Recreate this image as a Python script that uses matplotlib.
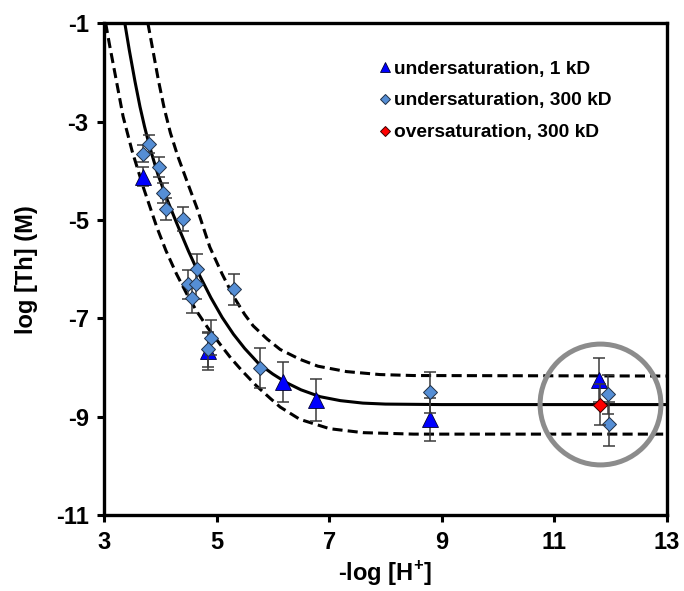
import matplotlib
matplotlib.use("Agg")
import matplotlib.pyplot as plt

plt.rcParams["font.family"] = ["Liberation Sans", "DejaVu Sans"]
plt.rcParams["font.weight"] = "bold"
plt.rcParams["mathtext.fontset"] = "custom"
plt.rcParams["mathtext.rm"] = "Liberation Sans:bold"
plt.rcParams["mathtext.bf"] = "Liberation Sans:bold"

# ---------------------------------------------------------------------------
# Data
# ---------------------------------------------------------------------------

# undersaturation, 1 kD
tri_x = [3.69, 4.84, 6.18, 6.76, 8.80, 11.80]
tri_y = [-4.12, -7.67, -8.29, -8.66, -9.05, -8.25]
tri_err = [0.20, 0.38, 0.41, 0.43, 0.43, 0.45]

# undersaturation, 300 kD
dia_x = [3.80, 3.69, 3.98, 4.05, 4.10, 4.40, 4.66, 4.50, 4.63, 4.57,
         5.31, 4.91, 4.84, 5.77, 8.80, 11.96, 11.97]
dia_y = [-3.45, -3.65, -3.92, -4.45, -4.78, -4.98, -5.99, -6.31, -6.31, -6.59,
         -6.41, -7.39, -7.63, -8.01, -8.50, -8.54, -9.15]
dia_err = [0.18, 0.18, 0.20, 0.20, 0.22, 0.24, 0.30, 0.30, 0.30, 0.30,
           0.32, 0.35, 0.35, 0.40, 0.42, 0.40, 0.45]

# oversaturation, 300 kD
red_x = [11.81]
red_y = [-8.75]
red_err = [0.42]

# model curve (solid) and uncertainty band (dashed)
fit_x = [3.37, 3.45, 3.55, 3.64, 3.72, 3.80, 3.88, 3.96, 4.12, 4.29, 4.50, 4.70,
         4.90, 5.10, 5.30, 5.50, 5.75, 6.00, 6.25, 6.50, 6.84, 7.20, 7.60, 8.00,
         9.00, 13.0]
fit_y = [-1.00, -1.55, -2.18, -2.70, -3.10, -3.46, -3.78, -4.08, -4.58, -5.06,
         -5.63, -6.13, -6.58, -6.98, -7.32, -7.61, -7.92, -8.13, -8.31, -8.45,
         -8.59, -8.67, -8.72, -8.74, -8.75, -8.75]

upper_x = [3.78, 3.88, 3.97, 4.07, 4.18, 4.31, 4.47, 4.65, 4.88, 5.10, 5.30,
           5.50, 5.65, 5.90, 6.13, 6.48, 6.80, 7.31, 7.90, 8.50, 13.0]
upper_y = [-1.00, -1.62, -2.18, -2.73, -3.23, -3.70, -4.20, -4.75, -5.55, -6.10,
           -6.55, -6.92, -7.15, -7.42, -7.63, -7.83, -7.97, -8.08, -8.14, -8.16,
           -8.17]

lower_x = [3.03, 3.10, 3.20, 3.34, 3.50, 3.70, 3.94, 4.10, 4.29, 4.47, 4.65,
           4.85, 5.06, 5.25, 5.45, 5.70, 5.95, 6.13, 6.48, 7.01, 7.60, 8.50, 13.0]
lower_y = [-1.00, -1.45, -2.05, -2.90, -3.60, -4.34, -5.15, -5.62, -6.10, -6.50,
           -6.86, -7.20, -7.52, -7.80, -8.06, -8.36, -8.62, -8.80, -9.05, -9.24,
           -9.32, -9.35, -9.35]

# highlighted region (grey ring)
ring_x = [11.82]
ring_y = [-8.73]

x_ticks = [3, 5, 7, 9, 11, 13]
y_ticks = [-11, -9, -7, -5, -3, -1]

# ---------------------------------------------------------------------------
# Figure
# ---------------------------------------------------------------------------

fig = plt.figure(figsize=(6.84, 5.91), dpi=100)
ax = fig.add_axes([0.152, 0.128, 0.823, 0.833])

dash = (0, (3.3, 1.7))
ax.plot(upper_x, upper_y, color="black", lw=2.2, linestyle=dash, zorder=2)
ax.plot(lower_x, lower_y, color="black", lw=2.2, linestyle=dash, zorder=2)
ax.plot(fit_x, fit_y, color="black", lw=2.2, zorder=2)

err_kw = dict(fmt="none", ecolor="#3a3a3a", elinewidth=1.1, capsize=4, capthick=1.1)

ax.errorbar(tri_x, tri_y, yerr=tri_err, zorder=3, **err_kw)
ax.plot(tri_x, tri_y, "^", ms=11, color="#0000ff", mec="#000033", mew=0.6,
        zorder=4, label="undersaturation, 1 kD")

ax.errorbar(dia_x, dia_y, yerr=dia_err, zorder=5, **err_kw)
ax.plot(dia_x, dia_y, "D", ms=7.4, color="#558ed5", mec="#1f2f45", mew=0.7,
        zorder=6, label="undersaturation, 300 kD")

ax.errorbar(red_x, red_y, yerr=red_err, zorder=7, **err_kw)
ax.plot(red_x, red_y, "D", ms=7.4, color="#ff0000", mec="#3a0000", mew=0.7,
        zorder=8, label="oversaturation, 300 kD")

ax.plot(ring_x, ring_y, "o", ms=87, mfc="none", mec="#8c8c8c", mew=3.6, zorder=9)

ax.set_xlim(3, 13)
ax.set_ylim(-11, -1)
ax.set_xticks(x_ticks)
ax.set_yticks(y_ticks)
ax.set_xticklabels([str(t) for t in x_ticks])
ax.set_yticklabels([str(t) for t in y_ticks])
ax.tick_params(direction="out", length=5, width=2.2, labelsize=17, pad=6)

for side in ["left", "right", "top", "bottom"]:
    ax.spines[side].set_linewidth(2.4)

ax.set_xlabel("-log [H$^{+}$]", fontsize=17, fontweight="bold", labelpad=4)
ax.set_ylabel("log [Th] (M)", fontsize=17, fontweight="bold", labelpad=13)

ax.legend(loc="upper left", bbox_to_anchor=(0.473, 0.94), frameon=False,
          fontsize=13.8, markerscale=0.62, handlelength=0.7, handletextpad=0.15,
          labelspacing=0.75, borderaxespad=0)

fig.savefig("out.png", dpi=100)
